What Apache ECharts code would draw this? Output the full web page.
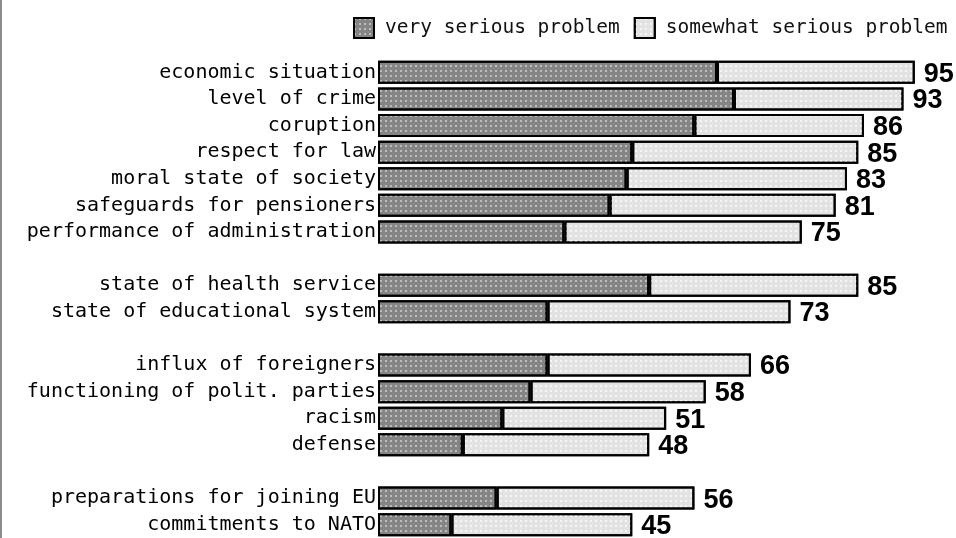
<!DOCTYPE html>
<html>
<head>
<meta charset="utf-8">
<script src="https://cdn.jsdelivr.net/npm/echarts@6/dist/echarts.min.js"></script>
<style>
    html, body { margin: 0; padding: 0; background: #fff; }
    #chart { width: 956px; height: 538px; }
</style>
</head>
<body>
<div id="chart"></div>
<script>
// empty strings are the gaps between the groups
var categories = [
    'economic situation', 'level of crime', 'coruption', 'respect for law',
    'moral state of society', 'safeguards for pensioners', 'performance of administration',
    '',
    'state of health service', 'state of educational system',
    '',
    'influx of foreigners', 'functioning of polit. parties', 'racism', 'defense',
    '',
    'preparations for joining EU', 'commitments to NATO'
];
var verySerious = [60, 63, 56, 45, 44, 41, 33, null, 48, 30, null, 30, 27, 22, 15, null, 21, 13];
var somewhatSerious = [35, 30, 30, 40, 39, 40, 42, null, 37, 43, null, 36, 31, 29, 33, null, 35, 32];
var totals = [95, 93, 86, 85, 83, 81, 75, null, 85, 73, null, 66, 58, 51, 48, null, 56, 45];
var legendNames = ['very serious problem', 'somewhat serious problem'];

var monoFont = '"DejaVu Sans Mono", monospace';

function dots(color) {
    return {
        symbol: 'rect',
        symbolSize: 1,
        color: color,
        dashArrayX: [2, 3],
        dashArrayY: [2, 3]
    };
}

var chart = echarts.init(document.getElementById('chart'));
chart.setOption({
    animation: false,
    backgroundColor: '#fff',
    legend: {
        data: legendNames,
        top: 12,
        left: 348,
        itemWidth: 20,
        itemHeight: 20,
        itemGap: 14,
        icon: 'rect',
        textStyle: {
            fontFamily: monoFont,
            fontSize: 19.5,
            color: '#111',
            padding: [0, 0, 0, 6]
        }
    },
    grid: {
        left: 378,
        right: 13,
        top: 59,
        bottom: 0,
        containLabel: false
    },
    xAxis: {
        type: 'value',
        min: 0,
        max: 100,
        show: false
    },
    yAxis: {
        type: 'category',
        inverse: true,
        data: categories,
        axisLine: { show: false },
        axisTick: { show: false },
        splitLine: { show: false },
        axisLabel: {
            margin: 2,
            fontFamily: monoFont,
            fontSize: 20,
            color: '#000'
        }
    },
    series: [{
        name: legendNames[0],
        type: 'bar',
        stack: 'total',
        barWidth: 23,
        data: verySerious,
        itemStyle: {
            color: '#858585',
            borderColor: '#000',
            borderWidth: 2,
            decal: dots('rgba(255,255,255,0.45)')
        }
    }, {
        name: legendNames[1],
        type: 'bar',
        stack: 'total',
        barWidth: 23,
        data: somewhatSerious,
        itemStyle: {
            color: '#e2e2e2',
            borderColor: '#000',
            borderWidth: 2,
            decal: dots('rgba(255,255,255,0.7)')
        },
        label: {
            show: true,
            position: 'right',
            distance: 9,
            offset: [0, 2],
            fontFamily: '"Liberation Sans", Arial, sans-serif',
            fontWeight: 'bold',
            fontSize: 27,
            color: '#000',
            formatter: function(p) {
                return totals[p.dataIndex];
            }
        }
    }],
    graphic: [{
        type: 'rect',
        left: 0,
        top: 0,
        shape: { width: 2, height: 538 },
        style: { fill: '#8c8c8c' }
    }]
});
</script>
</body>
</html>
